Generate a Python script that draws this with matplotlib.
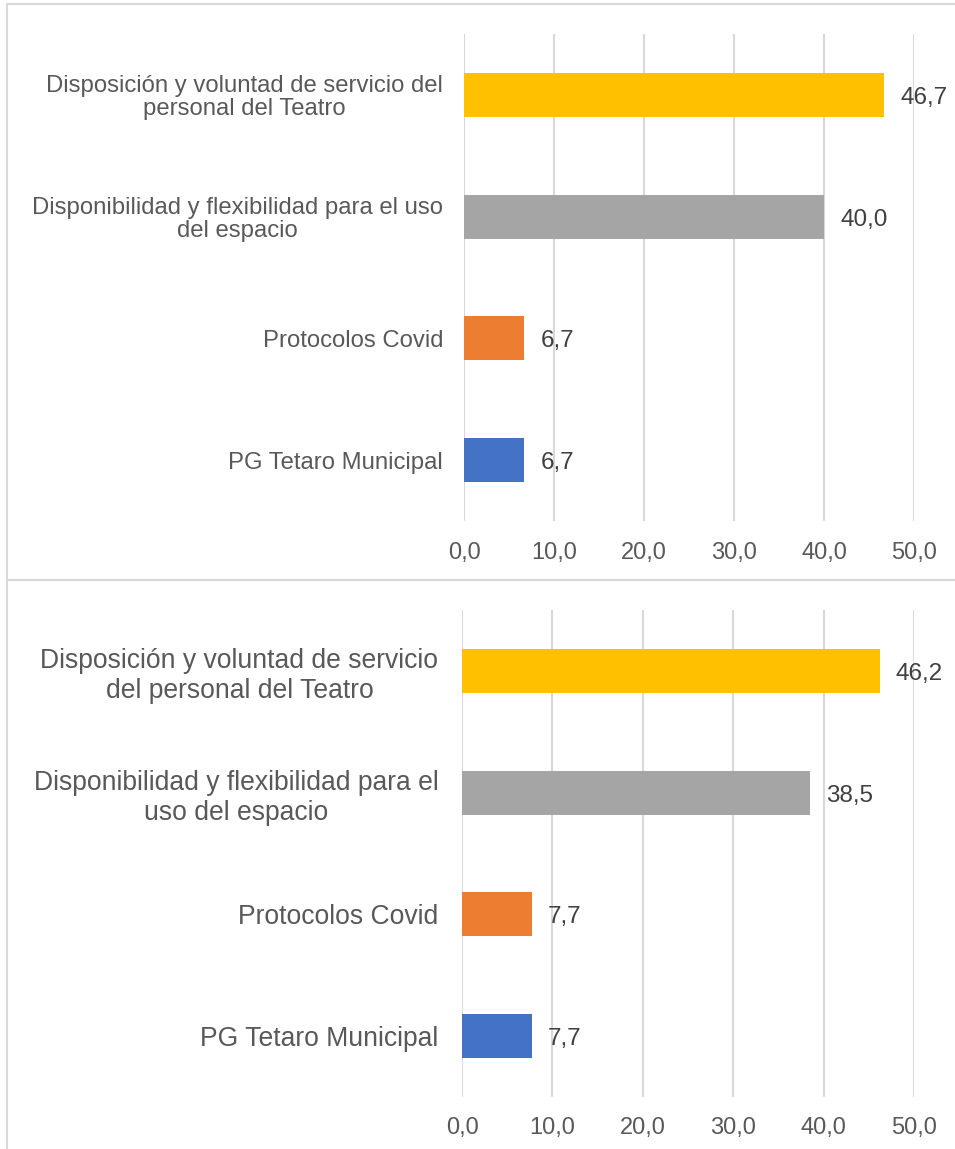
import matplotlib
matplotlib.use("Agg")
import matplotlib.pyplot as plt
from matplotlib.patches import Rectangle

plt.rcParams['font.family'] = ['Liberation Sans', 'DejaVu Sans']

categories_top = ["PG Tetaro Municipal", "Protocolos Covid",
                  "Disponibilidad y flexibilidad para el uso\ndel espacio",
                  "Disposición y voluntad de servicio del\npersonal del Teatro"]
values_top = [6.7, 6.7, 40.0, 46.7]

categories_bottom = ["PG Tetaro Municipal", "Protocolos Covid",
                     "Disponibilidad y flexibilidad para el\nuso del espacio",
                     "Disposición y voluntad de servicio\ndel personal del Teatro"]
values_bottom = [7.7, 7.7, 38.5, 46.2]

bar_colors = ["#4472C4", "#ED7D31", "#A5A5A5", "#FFC000"]
xticks = [0, 10, 20, 30, 40, 50]

W, H = 955, 1149
fig = plt.figure(figsize=(W / 100, H / 100), dpi=100)


def px_axes(x0, y0, x1, y1):
    return fig.add_axes([x0 / W, 1 - y1 / H, (x1 - x0) / W, (y1 - y0) / H])


def fmt(v):
    return f"{v:.1f}".replace(".", ",")


def draw(ax, cats, vals, cat_size, tick_size, val_size, tick_pad, ypad, lsp):
    y = list(range(len(cats)))
    ax.barh(y, vals, height=0.36, color=bar_colors, zorder=2)
    ax.set_xlim(0, 50)
    ax.set_ylim(-0.5, 3.5)
    ax.set_xticks(xticks)
    ax.set_xticklabels([fmt(t) for t in xticks], fontsize=tick_size, color="#595959")
    ax.set_yticks(y)
    ax.set_yticklabels(cats, fontsize=cat_size, color="#595959",
                       multialignment="center", linespacing=lsp)
    ax.tick_params(axis="both", length=0)
    ax.tick_params(axis="x", pad=tick_pad)
    ax.tick_params(axis="y", pad=ypad)
    ax.grid(axis="x", color="#D9D9D9", linewidth=1.5, zorder=0)
    for s in ax.spines.values():
        s.set_visible(False)
    for yi, v in zip(y, vals):
        ax.annotate(fmt(v), (v, yi), xytext=(16, -3), textcoords="offset pixels",
                    va="center", ha="left", fontsize=val_size, color="#404040")


ax1 = px_axes(464, 34, 914, 521)
draw(ax1, categories_top, values_top, 17.2, 17, 17.5, 15, 15, 1.05)

ax2 = px_axes(462, 610, 914, 1097)
draw(ax2, categories_bottom, values_bottom, 19.1, 17, 17.5, 14.5, 17, 1.2)

# panel borders
border = "#D9D9D9"
fig.add_artist(Rectangle((7 / W, 1 - 580 / H), 1.0, (580 - 4) / H,
                         transform=fig.transFigure, fill=False,
                         edgecolor=border, linewidth=1.5))
fig.add_artist(Rectangle((7 / W, -0.01), 1.0, (1 - 580 / H) + 0.01,
                         transform=fig.transFigure, fill=False,
                         edgecolor=border, linewidth=1.5))

fig.savefig("out.png", dpi=100, facecolor="white")
